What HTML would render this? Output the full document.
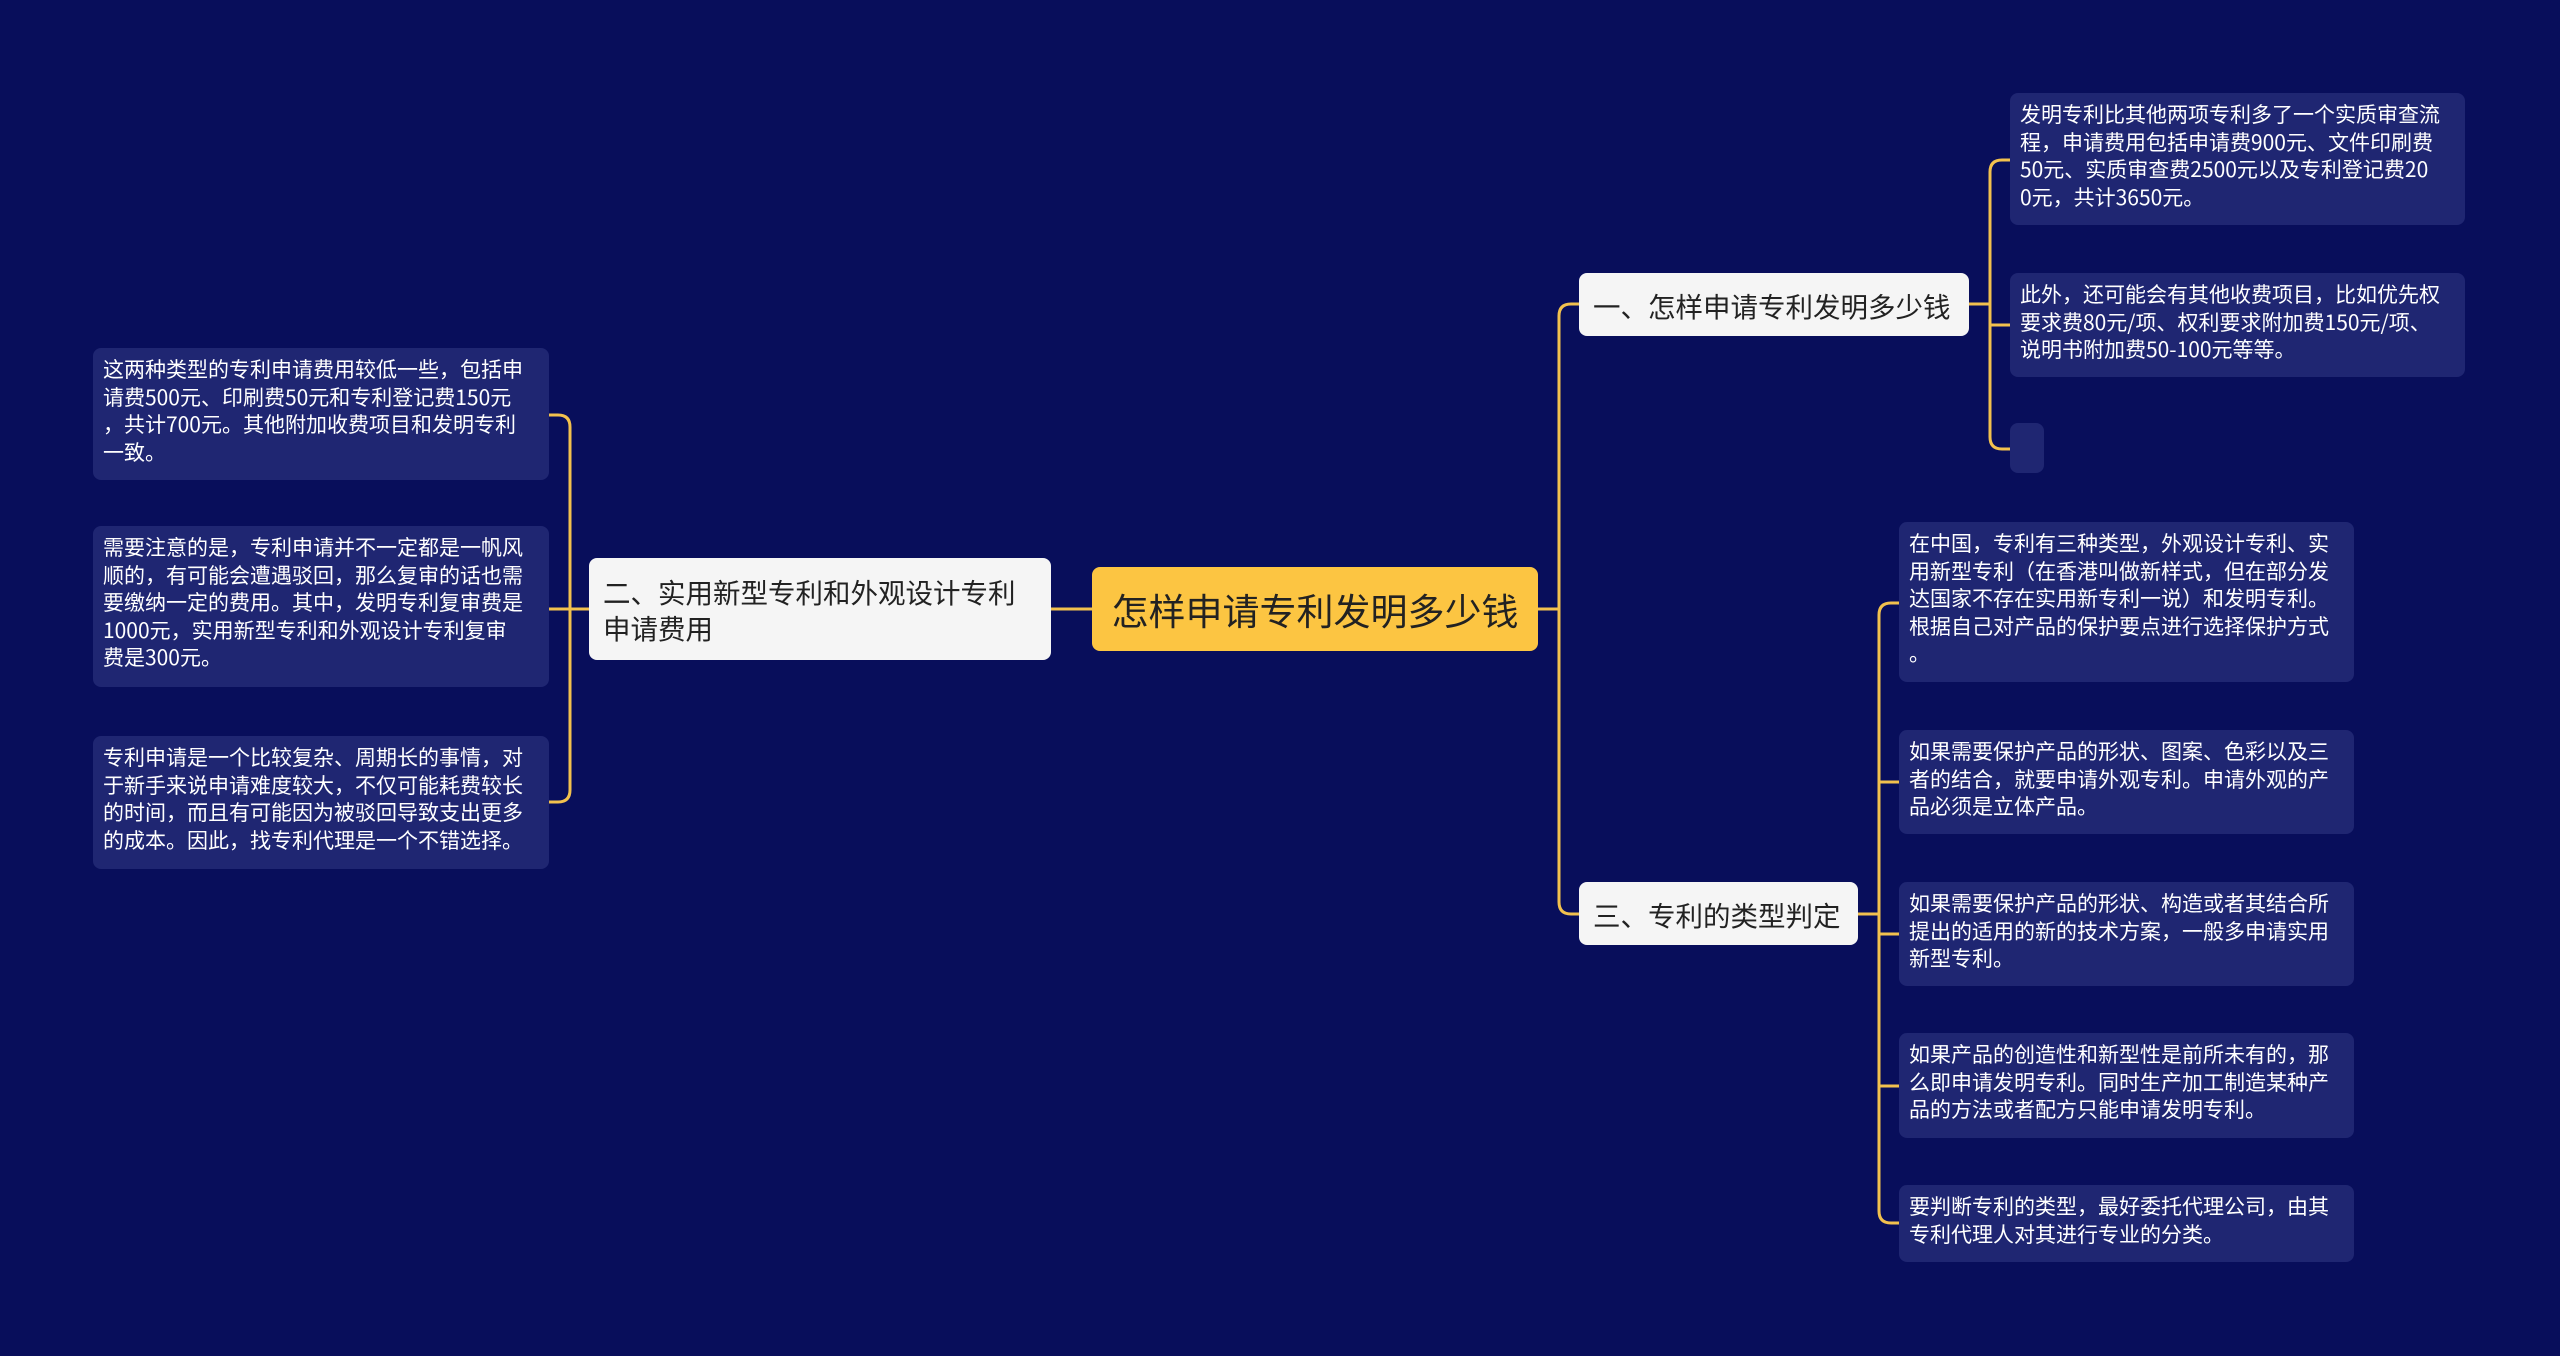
<!DOCTYPE html>
<html><head><meta charset="utf-8"><style>
body{margin:0;width:2560px;height:1356px;background:#080e5b;overflow:hidden;font-family:"Noto Sans CJK SC","Liberation Sans",sans-serif;position:relative}
.n{position:absolute;box-sizing:border-box}
.leaf{background:#1f2672;color:#fff;border-radius:8px;font-size:21px;line-height:27.5px;padding:8px 10px;white-space:nowrap}
.br{background:#f5f5f5;color:#222;border-radius:8px;font-size:27.5px;line-height:36px;padding:0 14px;display:flex;align-items:center}
.c{background:#fcc542;color:#222;border-radius:8px;font-size:37px;display:flex;align-items:center;justify-content:center}
svg{position:absolute;left:0;top:0}
</style></head><body>
<svg width="2560" height="1356" fill="none" stroke="#f2c14e" stroke-width="3">
<path d="M1538 609 H1559"/>
<path d="M1579 304 H1571 Q1559 304 1559 316 V902 Q1559 914 1571 914 H1579"/>
<path d="M1051 609 H1092"/>
<path d="M1969 304 H1990"/>
<path d="M2010 160 H2002 Q1990 160 1990 172 V437 Q1990 449 2002 449 H2010"/>
<path d="M1990 325 H2010"/>
<path d="M1858 914 H1879"/>
<path d="M1899 603 H1891 Q1879 603 1879 615 V1211 Q1879 1223 1891 1223 H1899"/>
<path d="M1879 782 H1899 M1879 934 H1899 M1879 1086 H1899"/>
<path d="M589 609 H570"/>
<path d="M549 415 H558 Q570 415 570 427 V790 Q570 802 558 802 H549"/>
<path d="M549 609 H570"/>
</svg>
<div class="n c" style="left:1092px;top:567px;width:446px;height:84px">怎样申请专利发明多少钱</div>
<div class="n br" style="left:1579px;top:273px;width:390px;height:63px">一、怎样申请专利发明多少钱</div>
<div class="n br" style="left:1579px;top:882px;width:279px;height:63px">三、专利的类型判定</div>
<div class="n br" style="left:589px;top:558px;width:462px;height:102px">二、实用新型专利和外观设计专利<br>申请费用</div>
<div class="n leaf" style="left:2010px;top:93px;width:455px;height:132px">发明专利比其他两项专利多了一个实质审查流<br>程，申请费用包括申请费900元、文件印刷费<br>50元、实质审查费2500元以及专利登记费20<br>0元，共计3650元。</div>
<div class="n leaf" style="left:2010px;top:273px;width:455px;height:104px">此外，还可能会有其他收费项目，比如优先权<br>要求费80元/项、权利要求附加费150元/项、<br>说明书附加费50-100元等等。</div>
<div class="n leaf" style="left:2010px;top:423px;width:34px;height:50px"></div>
<div class="n leaf" style="left:1899px;top:522px;width:455px;height:160px">在中国，专利有三种类型，外观设计专利、实<br>用新型专利（在香港叫做新样式，但在部分发<br>达国家不存在实用新专利一说）和发明专利。<br>根据自己对产品的保护要点进行选择保护方式<br>。</div>
<div class="n leaf" style="left:1899px;top:730px;width:455px;height:104px">如果需要保护产品的形状、图案、色彩以及三<br>者的结合，就要申请外观专利。申请外观的产<br>品必须是立体产品。</div>
<div class="n leaf" style="left:1899px;top:882px;width:455px;height:104px">如果需要保护产品的形状、构造或者其结合所<br>提出的适用的新的技术方案，一般多申请实用<br>新型专利。</div>
<div class="n leaf" style="left:1899px;top:1033px;width:455px;height:105px">如果产品的创造性和新型性是前所未有的，那<br>么即申请发明专利。同时生产加工制造某种产<br>品的方法或者配方只能申请发明专利。</div>
<div class="n leaf" style="left:1899px;top:1185px;width:455px;height:77px">要判断专利的类型，最好委托代理公司，由其<br>专利代理人对其进行专业的分类。</div>
<div class="n leaf" style="left:93px;top:348px;width:456px;height:132px">这两种类型的专利申请费用较低一些，包括申<br>请费500元、印刷费50元和专利登记费150元<br>，共计700元。其他附加收费项目和发明专利<br>一致。</div>
<div class="n leaf" style="left:93px;top:526px;width:456px;height:161px">需要注意的是，专利申请并不一定都是一帆风<br>顺的，有可能会遭遇驳回，那么复审的话也需<br>要缴纳一定的费用。其中，发明专利复审费是<br>1000元，实用新型专利和外观设计专利复审<br>费是300元。</div>
<div class="n leaf" style="left:93px;top:736px;width:456px;height:133px">专利申请是一个比较复杂、周期长的事情，对<br>于新手来说申请难度较大，不仅可能耗费较长<br>的时间，而且有可能因为被驳回导致支出更多<br>的成本。因此，找专利代理是一个不错选择。</div>
</body></html>
